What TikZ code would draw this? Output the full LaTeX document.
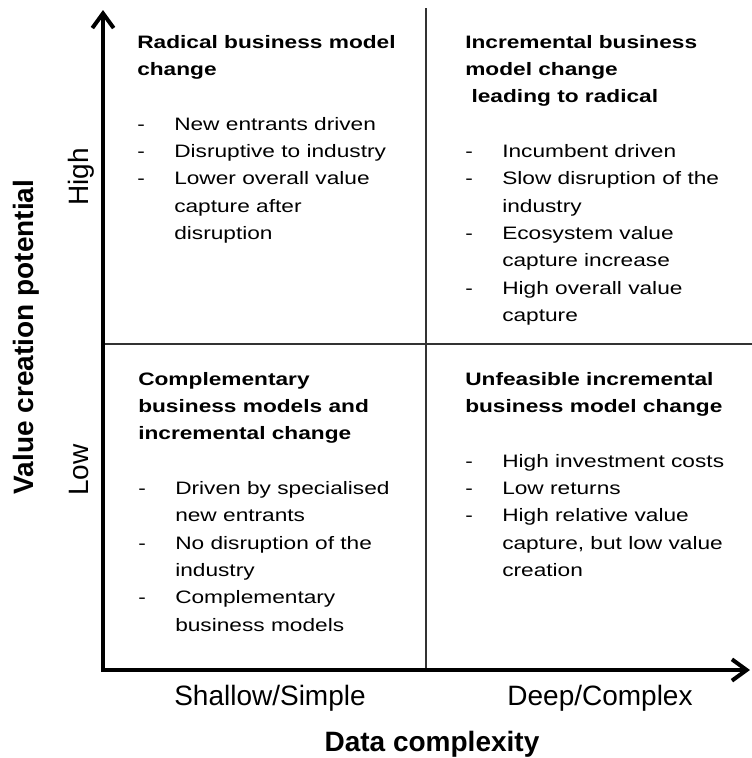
\documentclass[tikz,border=0pt]{standalone}
\usepackage{fontspec}
\setmainfont{Liberation Sans}
\newfontfamily\quadfont[FakeStretch=1.26]{Liberation Sans}
\usetikzlibrary{arrows.meta}

% bullet dash and the indent of a wrapped bullet line
\newcommand\bul{\makebox[27.75pt][l]{-}}
\newcommand\ind{\hspace*{27.75pt}}

\tikzset{
  axis/.style={line width=3pt,{Straight Barb[length=11pt,width=16pt]}-{Straight Barb[length=11pt,width=16pt]}},
  divider/.style={line width=1pt,black!80},
  quad/.style={anchor=north west,align=left,inner sep=0pt,font=\quadfont\fontsize{13.5}{20.5}\selectfont},
  ticklabel/.style={inner sep=0pt,font=\fontsize{21}{25}\selectfont},
  axislabel/.style={inner sep=0pt,font=\bfseries\fontsize{21}{25}\selectfont}
}

\begin{document}
\begin{tikzpicture}[x=0.75pt,y=-0.75pt]
  \useasboundingbox (0,0) rectangle (752,758);
  \coordinate (origin) at (103,670);
  \coordinate (ytip) at (103,10);
  \coordinate (xtip) at (750,670);
  \coordinate (midtop) at (426,8);
  \coordinate (midbot) at (426,670);
  \coordinate (midleft) at (103,344);
  \coordinate (midright) at (752,344);

  % quadrant dividers
  \draw[divider] (midtop) -- (midbot);
  \draw[divider] (midleft) -- (midright);
  % axes
  \draw[axis] (ytip) -- (origin) -- (xtip);

  % axis labels
  \node[axislabel,rotate=90,anchor=base] (vlabel) at (33,337) {Value creation potential};
  \node[ticklabel,rotate=90,anchor=base] (high) at (88,177) {High};
  \node[ticklabel,rotate=90,anchor=base] (low) at (88,470) {Low};
  \node[ticklabel,anchor=base] (shallow) at (270,705) {Shallow/Simple};
  \node[ticklabel,anchor=base] (deep) at (600,705) {Deep/Complex};
  \node[axislabel,anchor=base] (hlabel) at (432,751) {Data complexity};

  % quadrants
  \node[quad] (radical) at (137,35) {\textbf{Radical business model}\\
    \textbf{change}\\[20.5pt]
    \bul New entrants driven\\
    \bul Disruptive to industry\\
    \bul Lower overall value\\
    \ind capture after\\
    \ind disruption};
  \node[quad] (increm) at (465,35) {\textbf{Incremental business}\\
    \textbf{model change}\\
    \textbf{\ leading to radical}\\[20.5pt]
    \bul Incumbent driven\\
    \bul Slow disruption of the\\
    \ind industry\\
    \bul Ecosystem value\\
    \ind capture increase\\
    \bul High overall value\\
    \ind capture};
  \node[quad] (compl) at (138,372) {\textbf{Complementary}\\
    \textbf{business models and}\\
    \textbf{incremental change}\\[20.5pt]
    \bul Driven by specialised\\
    \ind new entrants\\
    \bul No disruption of the\\
    \ind industry\\
    \bul Complementary\\
    \ind business models};
  \node[quad] (unfeas) at (465,372) {\textbf{Unfeasible incremental}\\
    \textbf{business model change}\\[20.5pt]
    \bul High investment costs\\
    \bul Low returns\\
    \bul High relative value\\
    \ind capture, but low value\\
    \ind creation};
\end{tikzpicture}
\end{document}
